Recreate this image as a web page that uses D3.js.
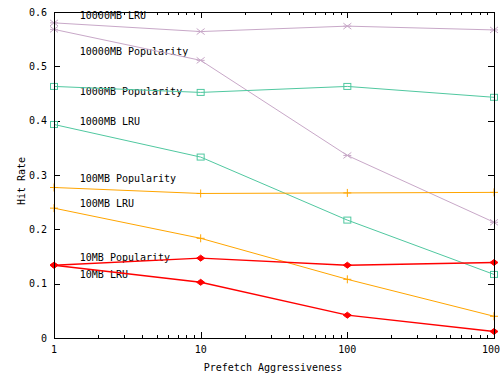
<!DOCTYPE html>
<html>
<head>
<meta charset="utf-8">
<script src="https://cdn.jsdelivr.net/npm/d3@7"></script>
<style>
  body { margin: 0; background: #fff; }
  svg { display: block; font-family: "DejaVu Sans Mono", monospace; font-size: 10px; }
</style>
</head>
<body>
<svg id="chart" width="500" height="386"></svg>
<script>
// prefetch aggressiveness (log axis)
const aggressiveness = [1, 10, 100, 1000];
const xTicks = [1, 10, 100, 1000];
const yTicks = [0, 0.1, 0.2, 0.3, 0.4, 0.5, 0.6];

// hit rate per cache size / policy
const lru10000 = [0.580, 0.564, 0.574, 0.567];
const pop10000 = [0.568, 0.511, 0.336, 0.213];
const pop1000 = [0.463, 0.452, 0.463, 0.443];
const lru1000 = [0.393, 0.333, 0.217, 0.117];
const pop100 = [0.277, 0.266, 0.267, 0.268];
const lru100 = [0.239, 0.1835, 0.108, 0.040];
const pop10 = [0.134, 0.147, 0.134, 0.139];
const lru10 = [0.134, 0.1025, 0.042, 0.012];

const labelNames = ["10000MB LRU", "10000MB Popularity", "1000MB Popularity", "1000MB LRU",
                    "100MB Popularity", "100MB LRU", "10MB Popularity", "10MB LRU"];
const labelY = [0.587, 0.521, 0.447, 0.392, 0.287, 0.241, 0.142, 0.110];
const labelX = 1.5;

const series = [
  { values: lru10000, color: "#c8a8c8", mark: "star", width: 1 },
  { values: pop10000, color: "#c8a8c8", mark: "star", width: 1 },
  { values: pop1000, color: "#50c8a0", mark: "square", width: 1 },
  { values: lru1000, color: "#50c8a0", mark: "square", width: 1 },
  { values: pop100, color: "#ffa500", mark: "plus", width: 1 },
  { values: lru100, color: "#ffa500", mark: "plus", width: 1 },
  { values: pop10, color: "#ff0000", mark: "dot", width: 1.4 },
  { values: lru10, color: "#ff0000", mark: "dot", width: 1.4 }
];

const W = 500, H = 386;
const margin = { top: 12, right: 6, bottom: 48, left: 54 };
const svg = d3.select("#chart");

const x = d3.scaleLog().domain([1, 1000]).range([margin.left, W - margin.right]);
const y = d3.scaleLinear().domain([0, 0.6]).range([H - margin.bottom, margin.top]);

const g = svg.append("g");

// minor log ticks
const minor = [];
for (let d = 1; d < 1000; d *= 10) for (let k = 2; k < 10; k++) minor.push(d * k);

const ax = g.append("g").attr("stroke", "#000").attr("shape-rendering", "crispEdges");
ax.selectAll(".mb").data(minor).enter().append("line")
  .attr("x1", d => Math.round(x(d)) + 0.5).attr("x2", d => Math.round(x(d)) + 0.5)
  .attr("y1", y(0)).attr("y2", y(0) - 3);
ax.selectAll(".mt").data(minor).enter().append("line")
  .attr("x1", d => Math.round(x(d)) + 0.5).attr("x2", d => Math.round(x(d)) + 0.5)
  .attr("y1", y(0.6)).attr("y2", y(0.6) + 3);
ax.selectAll(".xb").data(xTicks).enter().append("line")
  .attr("x1", d => Math.round(x(d)) + 0.5).attr("x2", d => Math.round(x(d)) + 0.5)
  .attr("y1", y(0)).attr("y2", y(0) - 6);
ax.selectAll(".xt").data(xTicks).enter().append("line")
  .attr("x1", d => Math.round(x(d)) + 0.5).attr("x2", d => Math.round(x(d)) + 0.5)
  .attr("y1", y(0.6)).attr("y2", y(0.6) + 6);
ax.selectAll(".yl").data(yTicks).enter().append("line")
  .attr("x1", x(1)).attr("x2", x(1) + 6)
  .attr("y1", d => Math.round(y(d)) + 0.5).attr("y2", d => Math.round(y(d)) + 0.5);
ax.selectAll(".yr").data(yTicks).enter().append("line")
  .attr("x1", x(1000)).attr("x2", x(1000) - 6)
  .attr("y1", d => Math.round(y(d)) + 0.5).attr("y2", d => Math.round(y(d)) + 0.5);

// tick labels
g.selectAll(".ytl").data(yTicks).enter().append("text")
  .attr("x", margin.left - 7).attr("y", d => y(d)).attr("dy", "0.35em")
  .attr("text-anchor", "end").text(d => d === 0 ? "0" : d3.format(".1f")(d));
g.selectAll(".xtl").data(xTicks).enter().append("text")
  .attr("x", d => x(d)).attr("y", y(0) + 11).attr("dy", "0.35em")
  .attr("text-anchor", "middle").text(d => d);

// axis titles
g.append("text").attr("x", 273).attr("y", 371).attr("text-anchor", "middle")
  .text("Prefetch Aggressiveness");
g.append("text").attr("transform", "translate(25,181) rotate(-90)")
  .attr("text-anchor", "middle").text("Hit Rate");

// in-plot labels
g.selectAll(".lab").data(labelNames).enter().append("text")
  .attr("x", x(labelX)).attr("y", (d, i) => y(labelY[i])).text(d => d);

// lines
const line = d3.line().x((d, i) => x(aggressiveness[i])).y(d => y(d));
series.forEach(s => {
  g.append("path").datum(s.values).attr("d", line)
    .attr("fill", "none").attr("stroke", s.color).attr("stroke-width", s.width);

  const m = g.append("g").attr("stroke", s.color).attr("fill", "none");
  s.values.forEach((v, i) => {
    const cx = x(aggressiveness[i]), cy = y(v);
    if (s.mark === "star") {
      m.append("path").attr("d", `M${cx - 4},${cy - 3}L${cx + 4},${cy + 3}M${cx - 4},${cy + 3}L${cx + 4},${cy - 3}M${cx - 4},${cy}L${cx + 4},${cy}`);
    } else if (s.mark === "square") {
      m.append("rect").attr("x", cx - 3.5).attr("y", cy - 3).attr("width", 7).attr("height", 6);
    } else if (s.mark === "plus") {
      m.append("path").attr("d", `M${cx - 4},${cy}L${cx + 4},${cy}M${cx},${cy - 4}L${cx},${cy + 4}`);
    } else {
      m.append("path").attr("fill", s.color)
        .attr("d", `M${cx - 4},${cy}L${cx},${cy - 3}L${cx + 4},${cy}L${cx},${cy + 3}Z`);
    }
  });
});

// frame
g.append("rect").attr("x", margin.left + 0.5).attr("y", margin.top + 0.5)
  .attr("width", x(1000) - x(1)).attr("height", y(0) - y(0.6))
  .attr("fill", "none").attr("stroke", "#000").attr("shape-rendering", "crispEdges");
</script>
</body>
</html>
